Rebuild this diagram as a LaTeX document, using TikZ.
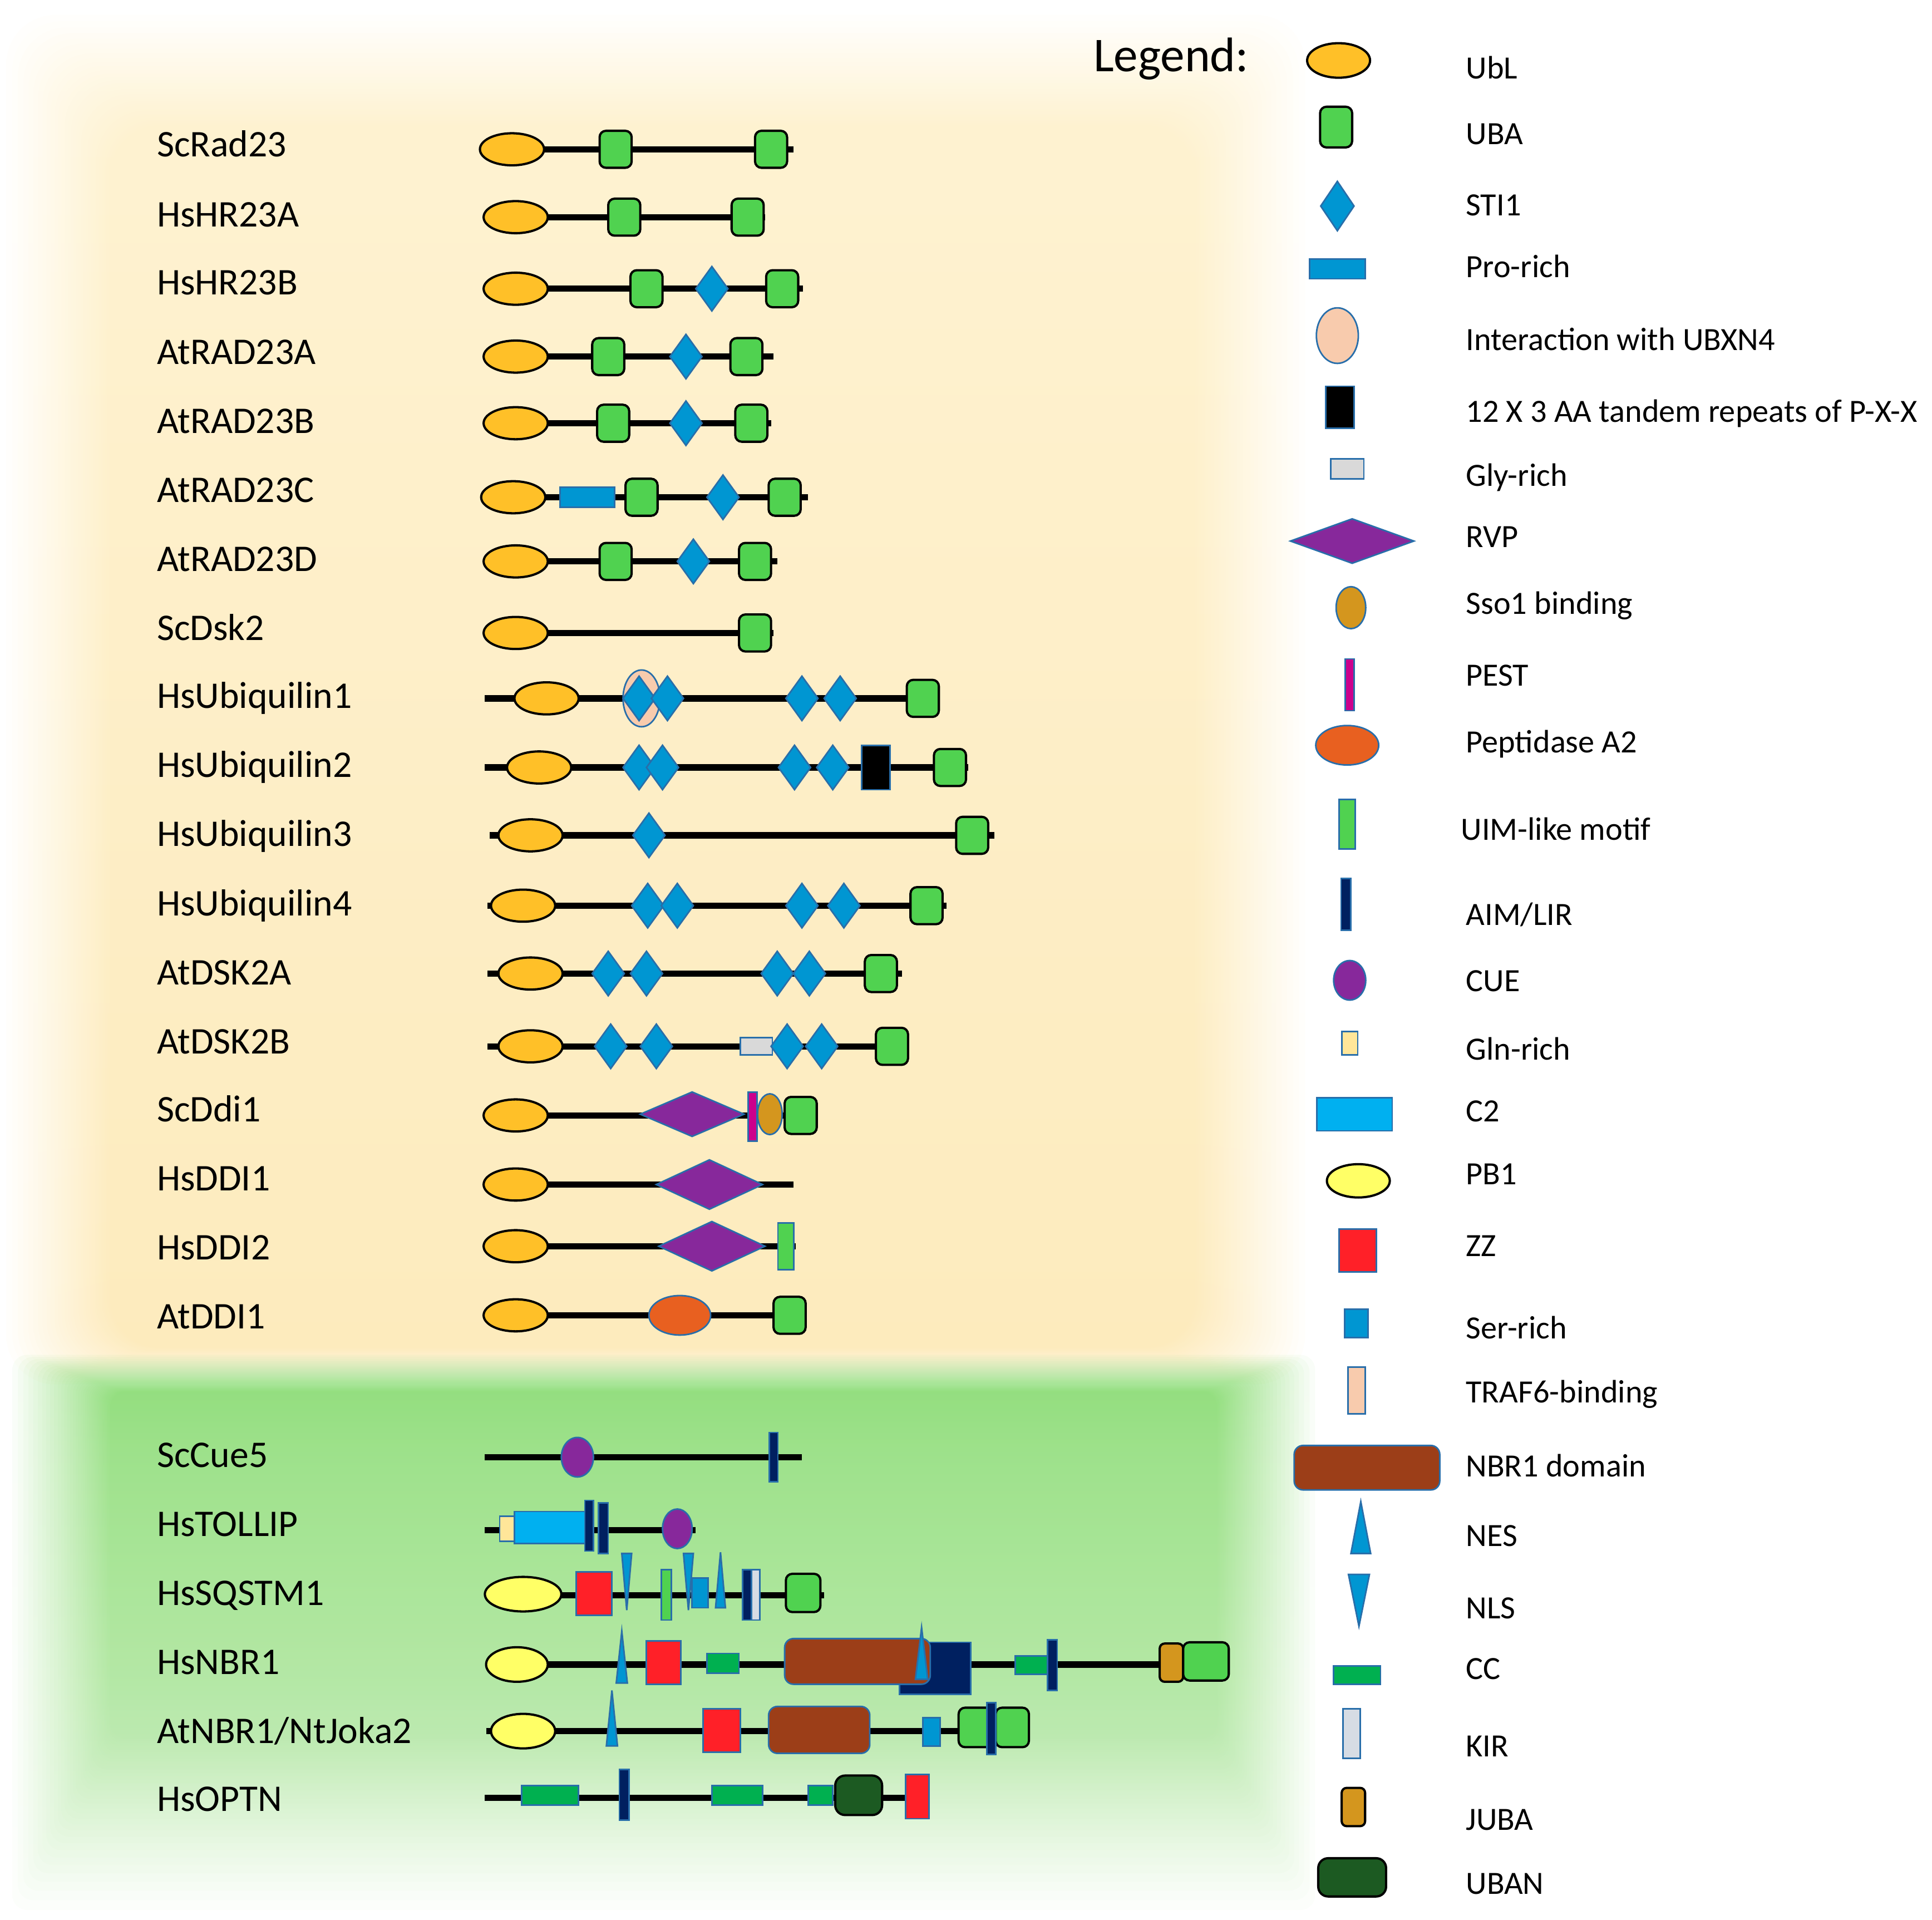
\documentclass[tikz,border=0pt]{standalone}
\usepackage{fontspec}
\setmainfont{Carlito}
\definecolor{cUbL}{RGB}{255,192,40}
\definecolor{cUBA}{RGB}{80,210,80}
\definecolor{cSTI}{RGB}{0,150,210}
\definecolor{cBord}{RGB}{40,110,170}
\definecolor{cUBXN}{RGB}{248,203,173}
\definecolor{cGly}{RGB}{217,217,217}
\definecolor{cRVP}{RGB}{135,40,155}
\definecolor{cSso}{RGB}{212,150,30}
\definecolor{cPEST}{RGB}{204,0,140}
\definecolor{cPep}{RGB}{232,96,32}
\definecolor{cAIM}{RGB}{0,32,96}
\definecolor{cGln}{RGB}{255,230,153}
\definecolor{cCtwo}{RGB}{0,176,240}
\definecolor{cPB}{RGB}{255,255,102}
\definecolor{cZZ}{RGB}{255,32,40}
\definecolor{cNBR}{RGB}{156,62,24}
\definecolor{cCC}{RGB}{0,176,80}
\definecolor{cKIR}{RGB}{214,220,228}
\definecolor{cUBAN}{RGB}{28,90,34}
\definecolor{cYtop}{RGB}{254,241,204}
\definecolor{cYbot}{RGB}{253,232,180}
\definecolor{cGtop}{RGB}{133,218,110}
\definecolor{cGbot}{RGB}{196,236,182}
\tikzset{
  dbb/.style={line width=3.6pt, draw=black, line cap=butt},
  dblk/.style={draw=black, line width=1.3pt},
  dblu/.style={draw=cBord, line width=0.9pt},
  dUbL/.style={dblk, fill=cUbL},
  dUBA/.style={dblk, fill=cUBA, rounded corners=1.3mm},
  dSTI/.style={dblu, fill=cSTI},
  dPro/.style={dblu, fill=cSTI},
  dUBXN/.style={dblu, fill=cUBXN},
  dXthree/.style={dblu, fill=black},
  dGly/.style={dblu, fill=cGly},
  dRVP/.style={dblu, fill=cRVP},
  dSso/.style={dblu, fill=cSso},
  dPEST/.style={dblu, fill=cPEST},
  dPep/.style={dblu, fill=cPep},
  dUIM/.style={dblu, fill=cUBA},
  dAIM/.style={dblu, fill=cAIM},
  dCUE/.style={dblu, fill=cRVP},
  dGln/.style={dblu, fill=cGln},
  dCtwo/.style={dblu, fill=cCtwo},
  dPB/.style={dblk, fill=cPB},
  dZZ/.style={dblu, fill=cZZ},
  dSer/.style={dblu, fill=cSTI},
  dTRAF/.style={dblu, fill=cUBXN},
  dNBR/.style={dblu, fill=cNBR, rounded corners=1.8mm},
  dNES/.style={dblu, fill=cSTI},
  dCC/.style={dblu, fill=cCC},
  dKIR/.style={dblu, fill=cKIR},
  dJUBA/.style={dblk, fill=cSso, rounded corners=1mm},
  dUBAN/.style={dblk, fill=cUBAN, rounded corners=2mm},
  plab/.style={anchor=base west, inner sep=0pt, font=\fontsize{21.7}{26}\selectfont},
  llab/.style={anchor=base west, inner sep=0pt, font=\fontsize{18.7}{22}\selectfont},
  ltitle/.style={anchor=base west, inner sep=0pt, font=\fontsize{28}{34}\selectfont}
}
% corner box
\newcommand\Dbox[5]{\draw[#1] (#2,#3) rectangle (#4,#5);}
% centred box: style, cx, cy, w, h
\newcommand\Dcbox[5]{\draw[#1] ({(#2)-(#4)/2},{(#3)-(#5)/2}) rectangle ({(#2)+(#4)/2},{(#3)+(#5)/2});}
\newcommand\Dell[5]{\draw[#1] (#2,#3) ellipse [x radius={(#4)/2}, y radius={(#5)/2}];}
\newcommand\Ddia[5]{\draw[#1] ({(#2)-(#4)/2},#3) -- (#2,{(#3)-(#5)/2}) -- ({(#2)+(#4)/2},#3) -- (#2,{(#3)+(#5)/2}) -- cycle;}
% up triangle: style, cx, ytip, ybase, w
\newcommand\Dup[5]{\draw[#1] (#2,#3) -- ({(#2)+(#5)/2},#4) -- ({(#2)-(#5)/2},#4) -- cycle;}
% down triangle: style, cx, ybase, ytip, w
\newcommand\Ddown[5]{\draw[#1] ({(#2)-(#5)/2},#3) -- ({(#2)+(#5)/2},#3) -- (#2,#4) -- cycle;}
\newcommand\Dline[3]{\draw[dbb] (#1,#3) -- (#2,#3);}
\newcommand\Ubl[2]{\Dell{dUbL}{#1}{#2}{52}{26}}
\newcommand\Uba[2]{\Dcbox{dUBA}{#1}{#2}{26}{30}}
\newcommand\Sti[2]{\Ddia{dSTI}{#1}{#2}{26}{36}}
\begin{document}
\begin{tikzpicture}[x=0.25mm,y=-0.25mm]
\useasboundingbox (0,0) rectangle (1566,1556);
% backgrounds: soft-edged panels built from stacked translucent layers
\foreach \i in {0,...,39}{
  \pgfmathsetmacro{\f}{(1-0.95^\i)/0.8715}
  \shade[top color=cYtop, bottom color=cYbot, opacity=0.05, rounded corners=10mm]
    ({5+85*\f},{12+90*\f}) rectangle ({1058-90*\f},{1122-30*\f});
}
\foreach \i in {0,...,39}{
  \pgfmathsetmacro{\f}{(1-0.95^\i)/0.8715}
  \shade[top color=cGtop, bottom color=cGbot, opacity=0.05, rounded corners=3mm]
    ({10+80*\f},{1098+30*\f}) rectangle ({1066-80*\f},{1548-140*\f});
}

% ---------- row labels ----------
\node[plab] (lScRad23) at (127,127) {ScRad23};
\node[plab] (lHsHR23A) at (127,184) {HsHR23A};
\node[plab] (lHsHR23B) at (127,239) {HsHR23B};
\node[plab] (lAtRAD23A) at (127,295) {AtRAD23A};
\node[plab] (lAtRAD23B) at (127,351) {AtRAD23B};
\node[plab] (lAtRAD23C) at (127,407) {AtRAD23C};
\node[plab] (lAtRAD23D) at (127,463) {AtRAD23D};
\node[plab] (lScDsk2) at (127,519) {ScDsk2};
\node[plab] (lHsUbq1) at (127,574) {HsUbiquilin1};
\node[plab] (lHsUbq2) at (127,630) {HsUbiquilin2};
\node[plab] (lHsUbq3) at (127,686) {HsUbiquilin3};
\node[plab] (lHsUbq4) at (127,742) {HsUbiquilin4};
\node[plab] (lAtDSK2A) at (127,798) {AtDSK2A};
\node[plab] (lAtDSK2B) at (127,854) {AtDSK2B};
\node[plab] (lScDdi1) at (127,909) {ScDdi1};
\node[plab] (lHsDDI1) at (127,965) {HsDDI1};
\node[plab] (lHsDDI2) at (127,1021) {HsDDI2};
\node[plab] (lAtDDI1) at (127,1077) {AtDDI1};
\node[plab] (lScCue5) at (127,1189) {ScCue5};
\node[plab] (lHsTOLLIP) at (127,1245) {HsTOLLIP};
\node[plab] (lHsSQSTM1) at (127,1301) {HsSQSTM1};
\node[plab] (lHsNBR1) at (127,1357) {HsNBR1};
\node[plab] (lAtNBR1) at (127,1413) {AtNBR1/NtJoka2};
\node[plab] (lHsOPTN) at (127,1468) {HsOPTN};

% ---------- rows ----------
\Dline{392}{643}{121} \Ubl{415}{121} \Uba{499}{121} \Uba{625}{121}
\Dline{395}{620}{176} \Ubl{418}{176} \Uba{506}{176} \Uba{606}{176}
\Dline{395}{651}{234} \Ubl{418}{234} \Uba{524}{234} \Sti{577}{234} \Uba{634}{234}
\Dline{395}{627}{289} \Ubl{418}{289} \Uba{493}{289} \Sti{556}{289} \Uba{605}{289}
\Dline{395}{625}{343} \Ubl{418}{343} \Uba{497}{343} \Sti{556}{343} \Uba{609}{343}
\Dline{393}{655}{403} \Ubl{416}{403} \Dcbox{dPro}{476}{403}{44}{16} \Uba{520}{403} \Sti{586}{403} \Uba{636}{403}
\Dline{395}{630}{455} \Ubl{418}{455} \Uba{499}{455} \Sti{562}{455} \Uba{612}{455}
\Dline{395}{627}{513} \Ubl{418}{513} \Uba{612}{513}
\Dline{393}{762}{566} \Ubl{443}{566} \Dell{dUBXN}{520}{566}{30}{46} \Sti{518}{566} \Sti{541}{566} \Sti{650}{566} \Sti{681}{566} \Uba{748}{566}
\Dline{393}{785}{622} \Ubl{437}{622} \Sti{518}{622} \Sti{537}{622} \Sti{644}{622} \Sti{675}{622} \Dcbox{dXthree}{710}{622}{23}{36} \Uba{770}{622}
\Dline{397}{806}{677} \Ubl{430}{677} \Sti{526}{677} \Uba{788}{677}
\Dline{395}{767}{734} \Ubl{424}{734} \Sti{525}{734} \Sti{549}{734} \Sti{650}{734} \Sti{684}{734} \Uba{751}{734}
\Dline{395}{731}{789} \Ubl{430}{789} \Sti{493}{789} \Sti{524}{789} \Sti{630}{789} \Sti{656}{789} \Uba{714}{789}
\Dline{395}{737}{848} \Ubl{430}{848} \Sti{495}{848} \Sti{532}{848} \Dcbox{dGly}{613}{848}{26}{14} \Sti{638}{848} \Sti{666}{848} \Uba{723}{848}
\Dline{393}{663}{904} \Ubl{418}{904} \Ddia{dRVP}{561}{903}{84}{36} \Dcbox{dPEST}{610}{905}{7}{40} \Dell{dSso}{624}{903}{20}{33} \Uba{649}{904}
\Dline{393}{643}{960} \Ubl{418}{960} \Ddia{dRVP}{575}{960}{86}{40}
\Dline{393}{645}{1010} \Ubl{418}{1010} \Ddia{dRVP}{577}{1010}{86}{40} \Dcbox{dUIM}{637}{1010}{13}{38}
\Dline{393}{652}{1066} \Ubl{418}{1066} \Dell{dPep}{551}{1066}{50}{32} \Uba{640}{1066}

% green part
\Dline{393}{650}{1181} \Dell{dCUE}{468}{1181}{26}{32} \Dcbox{dAIM}{627}{1181}{7}{40}

\Dline{393}{564}{1240} \Dbox{dGln}{405}{1229}{417}{1249} \Dbox{dCtwo}{417}{1225}{475}{1251}
\Dbox{dAIM}{474}{1216}{481}{1257} \Dbox{dAIM}{485}{1218}{493}{1259} \Dell{dCUE}{549}{1239}{24}{32}

\Dline{393}{668}{1293} \Dell{dPB}{424}{1292}{62}{28} \Dbox{dZZ}{467}{1274}{496}{1309}
\Ddown{dNES}{508}{1259}{1305}{8} \Dbox{dUIM}{536}{1272}{544}{1313}
\Ddown{dNES}{558}{1259}{1305}{8} \Dbox{dSer}{561}{1279}{574}{1303} \Dup{dNES}{584}{1258}{1303}{8}
\Dbox{dAIM}{602}{1272}{609}{1313} \Dbox{dKIR}{609}{1272}{616}{1313} \Dcbox{dUBA}{651}{1291}{28}{31}

\Dline{394}{996}{1349} \Dell{dPB}{419}{1349}{50}{28} \Dup{dNES}{504}{1322}{1364}{9}
\Dbox{dZZ}{524}{1330}{552}{1365} \Dbox{dCC}{573}{1340}{599}{1356}
\Dbox{dAIM}{729}{1331}{787}{1373} \Dbox{dNBR}{636}{1328}{754}{1365} \Dup{dNES}{747}{1319}{1361}{10}
\Dbox{dCC}{823}{1342}{849}{1357} \Dbox{dAIM}{849}{1329}{857}{1370}
\Dbox{dJUBA}{940}{1332}{959}{1363} \Dbox{dUBA}{959}{1331}{996}{1362}

\Dline{394}{834}{1403} \Dell{dPB}{424}{1403}{52}{28} \Dup{dNES}{496}{1370}{1415}{9}
\Dbox{dZZ}{570}{1385}{600}{1420} \Dbox{dNBR}{623}{1383}{705}{1421} \Dbox{dSer}{748}{1392}{762}{1415}
\Dbox{dUBA}{777}{1384}{807}{1416} \Dbox{dUBA}{807}{1384}{834}{1416} \Dbox{dAIM}{800}{1380}{807}{1422}

\Dline{393}{753}{1457} \Dbox{dCC}{423}{1447}{469}{1463} \Dbox{dAIM}{502}{1434}{510}{1475}
\Dbox{dCC}{577}{1447}{618}{1463} \Dbox{dCC}{655}{1447}{675}{1463} \Dbox{dUBAN}{677}{1439}{715}{1471}
\Dbox{dZZ}{734}{1438}{753}{1474}

% ---------- legend ----------
\node[ltitle] (legtitle) at (886,58) {Legend:};
\Dell{dUbL}{1085}{49}{51}{28}            \node[llab] (kUbL) at (1188,64) {UbL};
\Dcbox{dUBA}{1083}{103}{26}{33}          \node[llab] (kUBA) at (1188,117) {UBA};
\Ddia{dSTI}{1084}{167}{27}{40}           \node[llab] (kSTI) at (1188,175) {STI1};
\Dcbox{dPro}{1084}{218}{45}{16}          \node[llab] (kPro) at (1188,225) {Pro-rich};
\Dell{dUBXN}{1084}{272}{34}{45}          \node[llab] (kUBXN) at (1188,284) {Interaction with UBXN4};
\Dcbox{dXthree}{1086}{330}{23}{34}       \node[llab] (kXthree) at (1188,342) {12 X 3 AA tandem repeats of P-X-X};
\Dcbox{dGly}{1092}{380}{27}{16}          \node[llab] (kGly) at (1188,394) {Gly-rich};
\Ddia{dRVP}{1096}{438.5}{100}{36}        \node[llab] (kRVP) at (1188,443.5) {RVP};
\Dell{dSso}{1095}{492.5}{24}{34}         \node[llab] (kSso) at (1188,497.5) {Sso1 binding};
\Dcbox{dPEST}{1094}{555}{7}{42}          \node[llab] (kPEST) at (1188,556) {PEST};
\Dell{dPep}{1092}{604}{51}{32}           \node[llab] (kPep) at (1188,610) {Peptidase A2};
\Dcbox{dUIM}{1092}{668}{13}{40}          \node[llab] (kUIM) at (1184,681) {UIM-like motif};
\Dcbox{dAIM}{1091}{733}{8}{42}           \node[llab] (kAIM) at (1188,750) {AIM/LIR};
\Dell{dCUE}{1094}{794.5}{26}{32}         \node[llab] (kCUE) at (1188,803.5) {CUE};
\Dcbox{dGln}{1094}{845.5}{13}{19}        \node[llab] (kGln) at (1188,859) {Gln-rich};
\Dcbox{dCtwo}{1098}{903}{61}{27}         \node[llab] (kCtwo) at (1188,909) {C2};
\Dell{dPB}{1101}{957}{51}{27}            \node[llab] (kPB) at (1188,960) {PB1};
\Dcbox{dZZ}{1100.5}{1013.5}{30}{35}      \node[llab] (kZZ) at (1188,1018) {ZZ};
\Dcbox{dSer}{1099.5}{1072.5}{19}{23}     \node[llab] (kSer) at (1188,1085) {Ser-rich};
\Dcbox{dTRAF}{1099.5}{1127}{14}{38}      \node[llab] (kTRAF) at (1188,1137) {TRAF6-binding};
\Dcbox{dNBR}{1108}{1189.5}{118}{36}      \node[llab] (kNBR) at (1188,1197) {NBR1 domain};
\Dup{dNES}{1103}{1217}{1259}{16}         \node[llab] (kNES) at (1188,1253) {NES};
\Ddown{dNES}{1101.5}{1276}{1318}{17}     \node[llab] (kNLS) at (1188,1312) {NLS};
\Dcbox{dCC}{1100}{1357.5}{38}{15}        \node[llab] (kCC) at (1188,1361) {CC};
\Dcbox{dKIR}{1095.5}{1405}{14}{40}       \node[llab] (kKIR) at (1188,1423.5) {KIR};
\Dcbox{dJUBA}{1097}{1464.5}{19}{31}      \node[llab] (kJUBA) at (1188,1483) {JUBA};
\Dcbox{dUBAN}{1096}{1521.5}{55}{31}      \node[llab] (kUBAN) at (1188,1535) {UBAN};
\end{tikzpicture}
\end{document}
